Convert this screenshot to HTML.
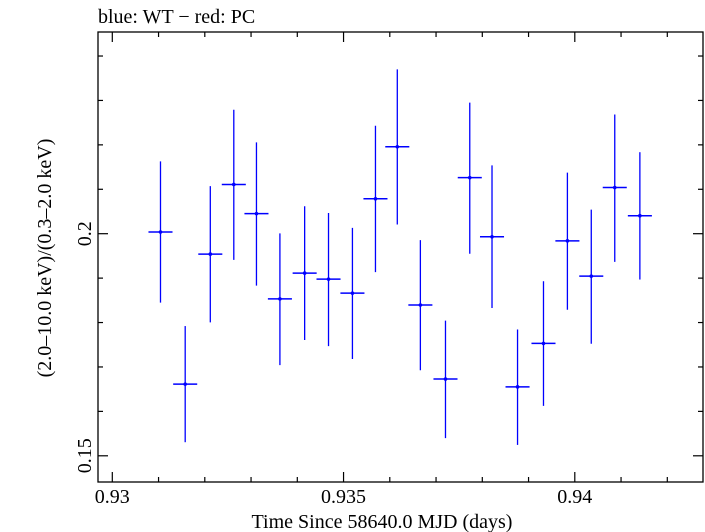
<!DOCTYPE html>
<html><head><meta charset="utf-8"><style>
body{margin:0;background:#fff}
svg{display:block;font-family:"Liberation Serif",serif}
</style></head><body>
<svg id="chart" width="705" height="532">
<text x="98" y="23" font-size="20">blue: WT − red: PC</text>
<rect x="98" y="32" width="605" height="450" fill="none" stroke="#000" stroke-width="1.3"/>
<g id="ticks"></g>
<g id="marks"></g>
<text x="382" y="528" font-size="20" text-anchor="middle">Time Since 58640.0 MJD (days)</text>
<text transform="translate(51,258) rotate(-90)" font-size="20" text-anchor="middle">(2.0–10.0 keV)/(0.3–2.0 keV)</text>
</svg>
<script>
const times=[0.931042,0.931576,0.932119,0.932627,0.933117,0.933624,0.934159,0.934675,0.935192,0.935690,0.936162,0.936661,0.937204,0.937729,0.938210,0.938762,0.939323,0.939840,0.940356,0.940864,0.941407];
const ratios=[0.20038,0.16613,0.19541,0.21109,0.20451,0.18532,0.19113,0.18976,0.18662,0.20787,0.21957,0.18395,0.16728,0.21261,0.19931,0.16552,0.17531,0.19839,0.19044,0.2104,0.20405];
const ratioHi=[0.21628,0.17921,0.2107,0.2279,0.22057,0.20008,0.20619,0.20466,0.2013,0.22431,0.237,0.19855,0.18043,0.22951,0.21537,0.17844,0.1893,0.21376,0.20543,0.22683,0.21835];
const ratioLo=[0.18448,0.15306,0.18005,0.19411,0.1883,0.17041,0.17607,0.1747,0.17179,0.19136,0.20206,0.16927,0.15398,0.19549,0.18326,0.15245,0.16124,0.18288,0.17523,0.19365,0.18968];
const halfBin=0.00026;
const xTickLabels=["0.93","0.935","0.94"];
const yTickLabels=["0.15","0.2"];
const NS="http://www.w3.org/2000/svg";
function X(v){return 112.3+(v-0.93)*46250;}
function Y(v){return 233.7-(v-0.2)*4442;}
function mk(tag,attrs,parent){const e=document.createElementNS(NS,tag);for(const k in attrs)e.setAttribute(k,attrs[k]);parent.appendChild(e);return e;}
const tg=document.getElementById('ticks');
for(let i=0;i<=13;i++){const v=0.93+i*0.001;const x=X(v);if(x>702)break;const L=(i%5===0)?10:5;
const t1=mk('line',{x1:x,x2:x,y1:482,y2:482-L,stroke:'#000','stroke-width':1.2},tg);


const t2=mk('line',{x1:x,x2:x,y1:32,y2:32+L,stroke:'#000','stroke-width':1.2},tg);

}
xTickLabels.forEach(s=>{const t=mk('text',{x:X(parseFloat(s)),y:503,'font-size':20,'text-anchor':'middle'},tg);t.textContent=s;

});
for(let i=0;i<=12;i++){const v=0.14+i*0.01;const y=Y(v);if(y<33||y>481)continue;const L=(Math.abs(v*100-Math.round(v/0.05)*5)<0.01)?10:5;
const t1=mk('line',{x1:98,x2:98+L,y1:y,y2:y,stroke:'#000','stroke-width':1.2},tg);


const t2=mk('line',{x1:703,x2:703-L,y1:y,y2:y,stroke:'#000','stroke-width':1.2},tg);

}
yTickLabels.forEach(s=>{const t=mk('text',{transform:`translate(91,${Y(parseFloat(s))}) rotate(-90)`,'font-size':20,'text-anchor':'middle'},tg);t.textContent=s;

});
const mg=document.getElementById('marks');
times.forEach((t,i)=>{const g=mk('g',{},mg);


mk('line',{x1:X(t),x2:X(t),y1:Y(ratioHi[i]),y2:Y(ratioLo[i]),stroke:'#0000ff','stroke-width':1.3},g);
mk('line',{x1:X(t-halfBin),x2:X(t+halfBin),y1:Y(ratios[i]),y2:Y(ratios[i]),stroke:'#0000ff','stroke-width':1.5},g);
mk('circle',{cx:X(t),cy:Y(ratios[i]),r:1.8,fill:'#0000ff'},g);});
</script>
</body></html>
